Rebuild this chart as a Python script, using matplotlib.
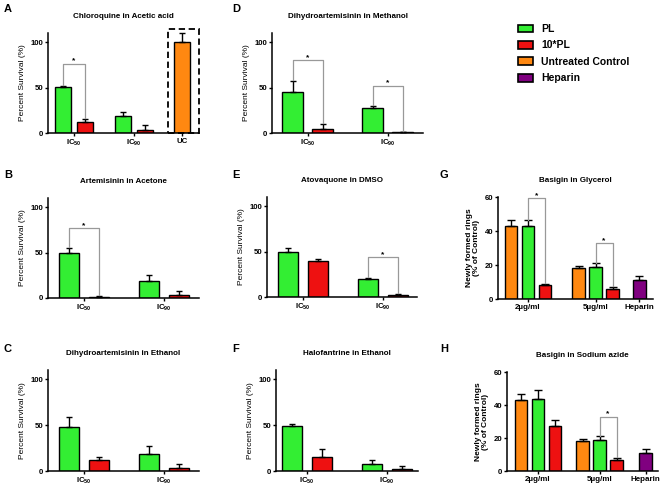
import numpy as np
import matplotlib.pyplot as plt
from matplotlib.patches import Rectangle, Patch

plt.rcParams['font.family'] = ['Liberation Sans', 'DejaVu Sans']
plt.rcParams['mathtext.fontset'] = 'custom'
plt.rcParams['mathtext.rm'] = 'Liberation Sans'
plt.rcParams['mathtext.bf'] = 'Liberation Sans:bold'

GREEN = '#33ee33'
RED = '#ee1111'
ORANGE = '#ff8811'
PURPLE = '#800080'
GREY = '#999999'

# --- data ---
ic_labels = [r'IC$_{\mathbf{50}}$', r'IC$_{\mathbf{90}}$']
dose_labels = ['2µg/ml', '5µg/ml', 'Heparin']

# A  Chloroquine in Acetic acid
a_pl, a_pl_err = [50.3, 19.0], [1.3, 3.8]
a_10pl, a_10pl_err = [12.0, 3.8], [3.6, 5.3]
a_uc, a_uc_err = 99.6, 10.4
# B  Artemisinin in Acetone
b_pl, b_pl_err = [49.2, 19.0], [5.8, 6.0]
b_10pl, b_10pl_err = [1.1, 3.0], [1.1, 5.2]
# C  Dihydroartemisinin in Ethanol
c_pl, c_pl_err = [48.0, 18.5], [11.3, 9.1]
c_10pl, c_10pl_err = [12.0, 3.6], [3.6, 3.7]
# D  Dihydroartemisinin in Methanol
d_pl, d_pl_err = [45.0, 27.5], [12.0, 2.5]
d_10pl, d_10pl_err = [4.0, 0.7], [5.5, 0.8]
# E  Atovaquone in DMSO
e_pl, e_pl_err = [49.3, 19.3], [4.3, 1.7]
e_10pl, e_10pl_err = [40.0, 1.8], [2.0, 1.2]
# F  Halofantrine in Ethanol
f_pl, f_pl_err = [49.0, 7.3], [2.0, 4.7]
f_10pl, f_10pl_err = [15.0, 2.6], [9.5, 3.2]

# G  Basigin in Glycerol (2µg/ml, 5µg/ml)
g_uc, g_uc_err = [43.1, 18.1], [3.5, 1.2]
g_pl, g_pl_err = [42.7, 18.7], [3.8, 2.2]
g_10pl, g_10pl_err = [8.3, 6.1], [0.7, 1.0]
g_hep, g_hep_err = 11.2, 2.2
# H  Basigin in Sodium azide
h_uc, h_uc_err = [43.2, 18.4], [3.7, 1.2]
h_pl, h_pl_err = [43.6, 19.0], [5.3, 2.0]
h_10pl, h_10pl_err = [27.5, 6.9], [3.6, 1.2]
h_hep, h_hep_err = 10.9, 2.4

W, H = 660, 486
fig = plt.figure(figsize=(6.6, 4.86), dpi=100)


def make_axes(l, r, y0, ytop, c0, s, ymax, yticks):
    # axes placed in pixel units; x data unit = group spacing
    ax = fig.add_axes([l / W, 1 - y0 / H, (r - l) / W, (y0 - ytop) / H])
    ax.set_xlim((l - c0) / s, (r - c0) / s)
    ax.set_ylim(0, ymax)
    for sp in ['top', 'right']:
        ax.spines[sp].set_visible(False)
    for sp in ['left', 'bottom']:
        ax.spines[sp].set_linewidth(1.1)
    ax.set_yticks(yticks)
    ax.tick_params(length=2.5, width=1, labelsize=5.6, pad=1)
    for t in ax.get_yticklabels():
        t.set_fontweight('bold')
    return ax


def bars(ax, x, vals, errs, w, color, cap):
    ax.bar(x, vals, w, color=color, edgecolor='k', linewidth=1, zorder=2)
    ax.errorbar(x, vals, yerr=[np.zeros(np.size(vals)), errs], fmt='none',
                ecolor='k', elinewidth=1, capsize=cap, capthick=1,
                zorder=3, clip_on=False)


def bracket(ax, x1, x2, level, b1, b2, dy):
    ax.plot([x1, x1, x2, x2], [b1, level, level, b2], color=GREY, lw=0.9,
            zorder=4, clip_on=False)
    ax.text((x1 + x2) / 2, level + dy, '*', ha='center', va='center',
            fontsize=6, fontweight='bold', clip_on=False)


def survival(ax, pl, pl_err, tpl, tpl_err, w, d, title):
    x = np.arange(len(pl))
    bars(ax, x - d, pl, pl_err, w, GREEN, 2.4)
    bars(ax, x + d, tpl, tpl_err, w, RED, 2.4)
    ax.set_xticks(x)
    ax.set_xticklabels(ic_labels, fontsize=5.6, fontweight='bold')
    ax.set_ylabel('Percent Survival (%)', fontsize=6, labelpad=3)
    ax.set_title(title, fontsize=5.8, fontweight='bold', pad=11)
    return x


def rings(ax, uc, uc_err, pl, pl_err, tpl, tpl_err, hep, hep_err, hep_x, w, d, title):
    x = np.arange(len(uc))
    bars(ax, x - d, uc, uc_err, w, ORANGE, 2.6)
    bars(ax, x, pl, pl_err, w, GREEN, 2.6)
    bars(ax, x + d, tpl, tpl_err, w, RED, 2.6)
    bars(ax, [hep_x], [hep], [hep_err], w, PURPLE, 2.6)
    ax.set_xticks([0, 1, hep_x])
    ax.set_xticklabels(dose_labels, fontsize=5.8, fontweight='bold')
    ax.set_ylabel('Newly formed rings\n(% of Control)', fontsize=6,
                  fontweight='bold', labelpad=3, linespacing=1.1)
    ax.set_title(title, fontsize=5.8, fontweight='bold', pad=11)
    return x


# A
ax = make_axes(48, 199, 133, 33, 74, 60, 110, [0, 50, 100])
x = survival(ax, a_pl, a_pl_err, a_10pl, a_10pl_err, 16 / 60, 11 / 60,
             'Chloroquine in Acetic acid')
bars(ax, [1.8], [a_uc], [a_uc_err], 16 / 60, ORANGE, 2.4)
ax.set_xticks([0, 1, 1.8])
ax.set_xticklabels(ic_labels + ['UC'], fontsize=5.6, fontweight='bold')
ax.add_patch(Rectangle((1.57, 0), 0.51, 114, fill=False, ls=(0, (3.5, 2)),
                       lw=1.3, edgecolor='k', clip_on=False, zorder=5))
bracket(ax, -11 / 60, 11 / 60, 76,
        a_pl[0] + a_pl_err[0] + 1, a_10pl[0] + a_10pl_err[0] + 1, 3)

# B
ax = make_axes(48, 199, 298, 198, 84, 80, 110, [0, 50, 100])
survival(ax, b_pl, b_pl_err, b_10pl, b_10pl_err, 0.25, 15 / 80,
         'Artemisinin in Acetone')
bracket(ax, -15 / 80, 15 / 80, 77,
        b_pl[0] + b_pl_err[0] + 1, b_10pl[0] + b_10pl_err[0] + 1, 3)

# C
ax = make_axes(48, 199, 471, 370, 84, 80, 110, [0, 50, 100])
survival(ax, c_pl, c_pl_err, c_10pl, c_10pl_err, 0.25, 15 / 80,
         'Dihydroartemisinin in Ethanol')

# D
ax = make_axes(272, 423, 133, 33, 307.5, 80, 110, [0, 50, 100])
survival(ax, d_pl, d_pl_err, d_10pl, d_10pl_err, 21 / 80, 15 / 80,
         'Dihydroartemisinin in Methanol')
bracket(ax, -15 / 80, 15 / 80, 80,
        d_pl[0] + d_pl_err[0] + 1, d_10pl[0] + d_10pl_err[0] + 1, 3)
bracket(ax, 1 - 15 / 80, 1 + 15 / 80, 52,
        d_pl[1] + d_pl_err[1] + 1, d_10pl[1] + d_10pl_err[1] + 1, 3)

# E
ax = make_axes(267, 417, 297, 197, 303, 80, 110, [0, 50, 100])
survival(ax, e_pl, e_pl_err, e_10pl, e_10pl_err, 0.25, 15 / 80,
         'Atovaquone in DMSO')
bracket(ax, 1 - 15 / 80, 1 + 15 / 80, 44,
        e_pl[1] + e_pl_err[1] + 1, e_10pl[1] + e_10pl_err[1] + 1, 3)

# F
ax = make_axes(276, 418, 471, 370, 307, 80, 110, [0, 50, 100])
survival(ax, f_pl, f_pl_err, f_10pl, f_10pl_err, 0.25, 15 / 80,
         'Halofantrine in Ethanol')

# G
ax = make_axes(498, 653, 299, 197, 528, 67.5, 60, [0, 20, 40, 60])
rings(ax, g_uc, g_uc_err, g_pl, g_pl_err, g_10pl, g_10pl_err, g_hep, g_hep_err,
      1.65, 12.5 / 67.5, 17 / 67.5, 'Basigin in Glycerol')
dg = 17 / 67.5
bracket(ax, 0, dg, 59.4, g_pl[0] + g_pl_err[0], g_10pl[0] + g_10pl_err[0] + 0.5, 1.5)
bracket(ax, 1, 1 + dg, 33, g_pl[1] + g_pl_err[1], g_10pl[1] + g_10pl_err[1] + 0.5, 1.5)

# H
ax = make_axes(507, 658, 471, 372, 538, 61.5, 60, [0, 20, 40, 60])
rings(ax, h_uc, h_uc_err, h_pl, h_pl_err, h_10pl, h_10pl_err, h_hep, h_hep_err,
      1.75, 12.5 / 61.5, 17 / 61.5, 'Basigin in Sodium azide')
dh = 17 / 61.5
bracket(ax, 1, 1 + dh, 33, h_pl[1] + h_pl_err[1], h_10pl[1] + h_10pl_err[1] + 0.5, 1.5)

# panel letters
for letter, px, py in [('A', 4, 9), ('B', 4, 175), ('C', 4, 349),
                       ('D', 232, 9), ('E', 232, 175), ('F', 232, 349),
                       ('G', 440, 175), ('H', 440, 349)]:
    fig.text(px / W, 1 - py / H, letter, fontsize=8, fontweight='bold',
             va='center', ha='left')

# legend
handles = [Patch(facecolor=c, edgecolor='k', linewidth=1.2)
           for c in [GREEN, RED, ORANGE, PURPLE]]
fig.legend(handles, ['PL', '10*PL', 'Untreated Control', 'Heparin'],
           loc='upper left', bbox_to_anchor=(518 / W, 1 - 24 / H),
           frameon=False, borderpad=0, borderaxespad=0,
           handlelength=1.45, handleheight=0.75, handletextpad=0.75,
           labelspacing=0.62, prop={'size': 7.5, 'weight': 'bold'})

fig.savefig('out.png', dpi=100)
